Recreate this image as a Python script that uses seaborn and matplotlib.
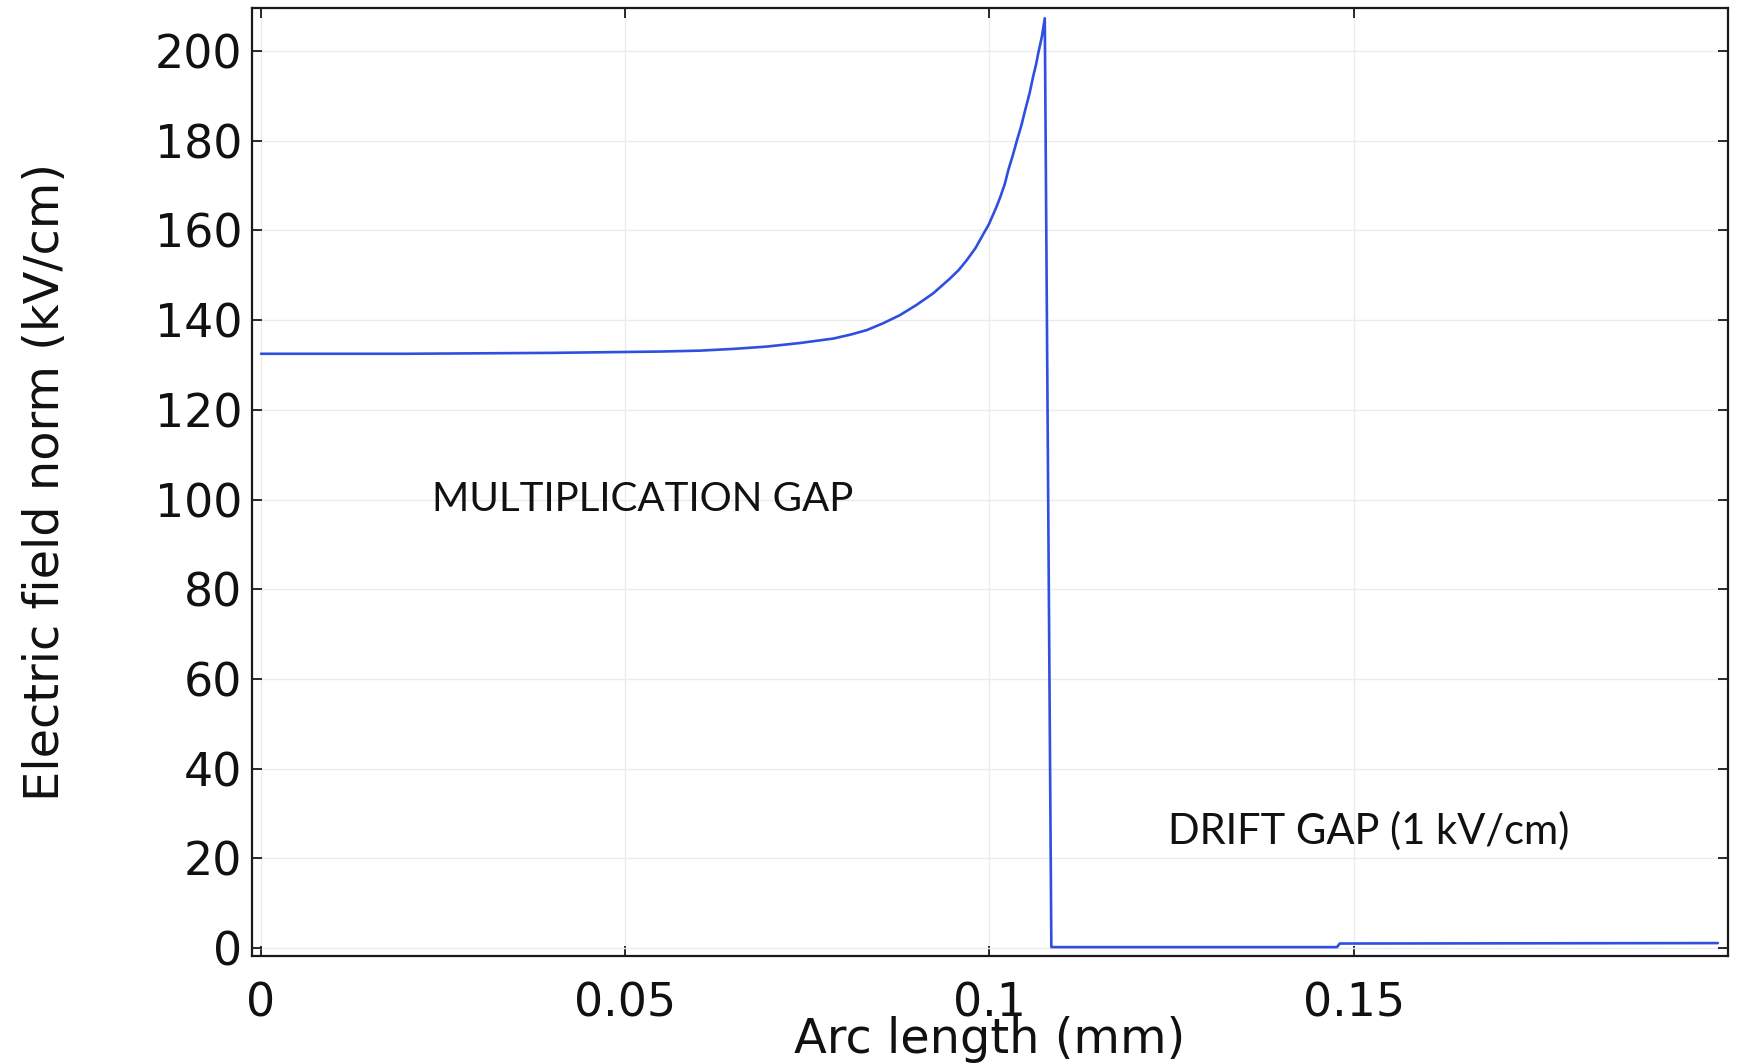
import matplotlib
matplotlib.use("Agg")
import matplotlib.pyplot as plt
import seaborn as sns
import pandas as pd

# Data
arc_length_mm = [0.0, 0.01, 0.02, 0.03, 0.04, 0.05, 0.055, 0.0603, 0.065, 0.0694, 0.074,
                 0.0786, 0.081, 0.0832, 0.0854, 0.0877, 0.0900, 0.0923, 0.0946, 0.0958,
                 0.0969, 0.0981, 0.0992, 0.0999, 0.1005, 0.1010, 0.1015, 0.1021, 0.1026,
                 0.1032, 0.1038, 0.1044, 0.1049, 0.1055, 0.1060, 0.1064, 0.1067, 0.1072,
                 0.1076, 0.1085, 0.1477, 0.1481, 0.2000]
field_kv_cm = [132.5, 132.5, 132.5, 132.6, 132.7, 132.9, 133.0, 133.2, 133.6, 134.1, 134.9,
               135.9, 136.8, 137.8, 139.3, 141.1, 143.4, 146.0, 149.3, 151.2,
               153.4, 156.1, 159.3, 161.3, 163.5, 165.4, 167.5, 170.3, 173.5,
               176.7, 180.2, 183.5, 186.8, 190.5, 194.3, 197.0, 199.5, 203.2,
               207.3, 0.2, 0.2, 1.0, 1.1]
x_ticks = [0, 0.05, 0.1, 0.15]
x_tick_labels = ["0", "0.05", "0.1", "0.15"]
y_ticks = [0, 20, 40, 60, 80, 100, 120, 140, 160, 180, 200]
annotations = ["MULTIPLICATION GAP", "DRIFT GAP (1 kV/cm)"]

df = pd.DataFrame({"x": arc_length_mm, "E": field_kv_cm})

sns.set_theme(style="white")
plt.rcParams["font.family"] = ["DejaVu Sans"]

fig = plt.figure(figsize=(17.39, 10.64), dpi=100)
ax = fig.add_axes([0.1449, 0.1015, 0.9937 - 0.1449, 0.9925 - 0.1015])

sns.lineplot(data=df, x="x", y="E", ax=ax, estimator=None, sort=False,
             color="#2f4fe0", linewidth=1.9)

ax.set_xlim(-0.00124, 0.2014)
ax.set_ylim(-1.78, 209.6)
ax.set_xticks(x_ticks)
ax.set_xticklabels(x_tick_labels)
ax.set_yticks(y_ticks)

ax.grid(True, color="#ebebeb", linewidth=1.0)
ax.set_axisbelow(True)
for s in ax.spines.values():
    s.set_visible(True)
    s.set_color("#1a1a1a")
    s.set_linewidth(1.6)

ax.tick_params(axis="both", which="both", direction="in", length=7, width=1.3,
               color="#1a1a1a", top=True, right=True, bottom=True, left=True,
               labelsize=33, labelcolor="#111111")
ax.tick_params(axis="x", pad=18)
ax.tick_params(axis="y", pad=7)

ax.set_xlabel("Arc length (mm)", fontsize=34.5, color="#111111", labelpad=-7)
ax.set_ylabel("Electric field norm (kV/cm)", fontsize=34.5, color="#111111", labelpad=62)

ax.text(0.0235, 100, annotations[0], fontsize=29, family=["Lato", "DejaVu Sans"],
        va="center", ha="left", color="#111111")
ax.text(0.1245, 26, annotations[1], fontsize=30, family=["Lato", "DejaVu Sans"],
        va="center", ha="left", color="#111111")

fig.savefig("out.png", dpi=100)
